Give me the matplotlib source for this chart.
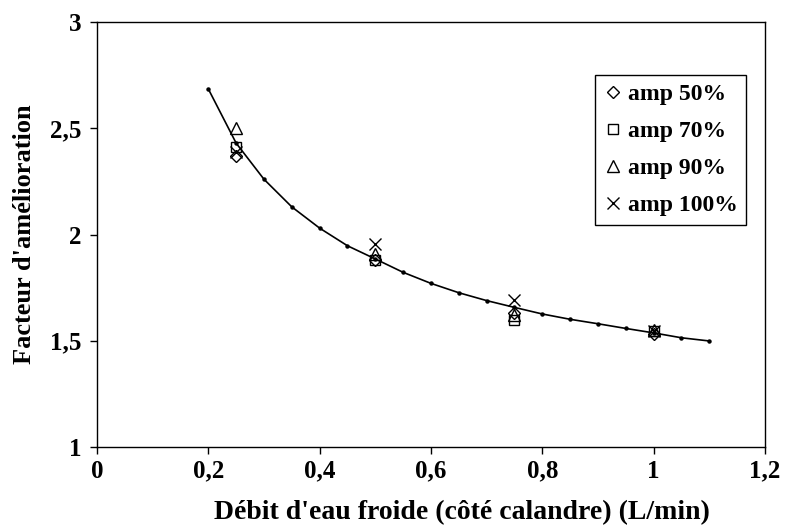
import matplotlib
matplotlib.use('Agg')
import matplotlib.pyplot as plt
from matplotlib.ticker import FuncFormatter

plt.rcParams['font.family'] = ['Liberation Serif', 'DejaVu Serif']
plt.rcParams['font.weight'] = 'bold'

# measured points (debit, L/min)
debit = [0.25, 0.5, 0.75, 1.0]
amp50 = [2.37, 1.88, 1.63, 1.53]
amp70 = [2.41, 1.88, 1.60, 1.545]
amp90 = [2.50, 1.91, 1.62, 1.55]
amp100 = [2.39, 1.955, 1.69, 1.545]

# fitted trend curve
fit_x = [0.2, 0.25, 0.3, 0.35, 0.4, 0.45, 0.5, 0.55, 0.6, 0.65, 0.7,
         0.75, 0.8, 0.85, 0.9, 0.95, 1.0, 1.05, 1.1]
fit_y = [2.685, 2.43, 2.26, 2.13, 2.03, 1.947, 1.885, 1.822, 1.770, 1.726,
         1.689, 1.657, 1.626, 1.601, 1.580, 1.558, 1.537, 1.514, 1.499]

fig = plt.figure(figsize=(7.97, 5.27), dpi=100)
ax = fig.add_axes([0.1217, 0.1518, 0.8381, 0.8064])

ax.plot(fit_x, fit_y, color='black', lw=1.2, marker='o', markersize=2.2)

ms = 9
ax.plot(debit, amp50, ls='none', marker='D', markersize=ms * 0.72, mfc='none',
        mec='black', mew=1.0, label='amp 50%')
ax.plot(debit, amp70, ls='none', marker='s', markersize=ms * 0.8, mfc='none',
        mec='black', mew=1.0, label='amp 70%')
ax.plot(debit, amp90, ls='none', marker='^', markersize=ms, mfc='none',
        mec='black', mew=1.0, label='amp 90%')
ax.plot(debit, amp100, ls='none', marker='x', markersize=ms,
        color='black', mew=1.0, label='amp 100%')

ax.set_xlim(0, 1.2)
ax.set_ylim(1, 3)
ax.set_xticks([0, 0.2, 0.4, 0.6, 0.8, 1.0, 1.2])
ax.set_yticks([1, 1.5, 2, 2.5, 3])
fmt = FuncFormatter(lambda v, p: ('%g' % v).replace('.', ','))
ax.xaxis.set_major_formatter(fmt)
ax.yaxis.set_major_formatter(fmt)
ax.tick_params(direction='out', length=5, width=1, labelsize=18)
ax.tick_params(axis='x', pad=4)
ax.tick_params(axis='y', pad=6)
for lbl in ax.get_xticklabels() + ax.get_yticklabels():
    lbl.set_fontweight('bold')
for s in ax.spines.values():
    s.set_linewidth(1.0)

ax.set_xlabel("Débit d'eau froide (côté calandre) (L/min)", fontsize=20,
              fontweight='bold')
ax.xaxis.set_label_coords(0.546, -0.125)
ax.set_ylabel("Facteur d'amélioration", fontsize=19, fontweight='bold',
              labelpad=10)

leg = ax.legend(loc='upper right', bbox_to_anchor=(0.972, 0.875),
                borderaxespad=0, fancybox=False, edgecolor='black',
                framealpha=1, fontsize=17, labelspacing=0.66,
                handlelength=0.8, handletextpad=0.25, borderpad=0.35)
leg.get_frame().set_linewidth(1.0)

fig.savefig('out.png', dpi=100)
